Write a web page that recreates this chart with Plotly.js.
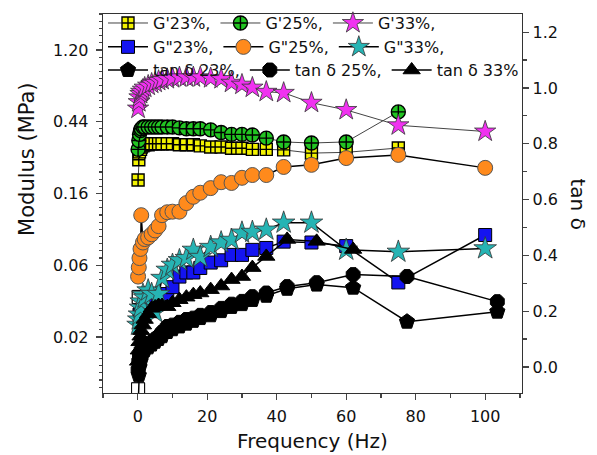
<!DOCTYPE html>
<html><head><meta charset="utf-8">
<script src="https://cdn.plot.ly/plotly-3.0.1.min.js"></script>
<style>html,body{margin:0;padding:0;background:#fff}#chart{width:597px;height:455px}</style>
</head><body><div id="chart"></div>
<script>
// Frequencies (Hz)
const freq    = [0.1,0.3,0.5,0.8,1,1.5,2,3,4,5,6,7,8.5,10,12,14,16,18,21,24,27,30,33,37,42,50,60,75,100];
const freqTan = [0.1,0.3,0.5,0.8,1,1.5,2,3,4,5,6,7,8.5,10,12,14,16,18,21,24,27,30,33,37,43,51.5,62,77.5,103.5];

// Storage modulus G' (MPa)
const gp23 = [0.196,0.26,0.29,0.30,0.31,0.315,0.32,0.32,0.325,0.325,0.325,0.325,0.325,0.325,0.32,0.32,0.32,0.315,0.31,0.31,0.305,0.305,0.30,0.30,0.298,0.285,0.288,0.306,null];
const gp25 = [0.30,0.34,0.37,0.39,0.40,0.41,0.41,0.41,0.41,0.41,0.41,0.41,0.41,0.41,0.405,0.40,0.40,0.40,0.394,0.38,0.37,0.37,0.367,0.351,0.333,0.328,0.333,0.506,null];
const gp33 = [0.53,0.58,0.62,0.65,0.67,0.69,0.71,0.73,0.75,0.76,0.78,0.79,0.80,0.81,0.82,0.82,0.82,0.82,0.81,0.80,0.76,0.74,0.71,0.67,0.66,0.575,0.52,0.42,0.385];
// Loss modulus G" (MPa)
const gpp23 = [0.0106,0.0384,0.030,0.031,0.032,0.032,0.033,0.034,0.034,0.035,0.035,0.036,0.040,0.044,0.051,0.054,0.054,0.0575,0.062,0.064,0.069,0.069,0.074,0.076,0.083,0.082,0.078,0.047,0.091];
const gpp25 = [0.051,0.058,0.066,0.075,0.12,0.082,0.086,0.088,0.092,0.097,0.103,0.12,0.125,0.126,0.126,0.142,0.155,0.164,0.175,0.19,0.188,0.202,0.21,0.21,0.235,0.242,0.266,0.278,0.232];
const gpp33 = [0.026,0.028,0.030,0.033,0.036,0.0395,0.038,0.042,0.040,0.031,0.040,0.050,0.056,0.060,0.064,0.066,0.074,0.067,0.077,0.082,0.085,0.094,0.095,0.098,0.108,0.108,0.074,0.072,0.0755];
// tan delta
const tan23 = [-0.15,-0.03,0.0,0.02,0.04,0.05,0.06,0.07,0.08,0.09,0.10,0.11,0.125,0.135,0.145,0.155,0.165,0.175,0.185,0.20,0.215,0.225,0.24,0.255,0.28,0.295,0.284,0.162,0.198];
const tan25 = [-0.01,0.02,0.04,0.05,0.06,0.065,0.07,0.08,0.09,0.10,0.11,0.125,0.145,0.15,0.16,0.17,0.175,0.185,0.195,0.21,0.225,0.235,0.252,0.265,0.288,0.302,0.331,0.324,0.234];
const tan33 = [0.02,0.06,0.09,0.11,0.13,0.15,0.17,0.19,0.21,0.215,0.22,0.22,0.216,0.23,0.241,0.25,0.259,0.265,0.277,0.29,0.313,0.324,0.356,0.396,0.457,0.45,0.421,null,null];

// Axis tick labels
const modTickVals = [0.02196,0.05970,0.1624,0.4415,1.2];
const modTickText = ['0.02','0.06','0.16','0.44','1.20'];

const minorMod = [];
for (let k = -50; k <= 6; k++) minorMod.push(1.2*Math.exp(k/10));

const FONT = '"DejaVu Sans", Arial, sans-serif';
function tr(name, x, y, sym, color, size, opts) {
  opts = opts || {};
  return {
    type:'scatter', mode: opts.mode || 'lines+markers', name:name, x:x, y:y,
    yaxis: opts.yaxis || 'y', legend: opts.legend, showlegend: opts.showlegend !== false,
    connectgaps:false,
    line:{color: opts.lineColor || '#000', width: opts.lineWidth || 1.5},
    marker:{symbol:sym, color:color, size:size, line:{color: opts.edge || '#000', width: opts.edgeW || 1}}
  };
}

const data = [
  tr("G'23%,", freq, gp23, 'square-cross', '#f2f200', 12, {legend:'legend', lineColor:'#444', lineWidth:1, edgeW:1.4}),
  tr("G'25%,", freq, gp25, 'circle-cross', '#22c422', 14, {legend:'legend', lineColor:'#444', lineWidth:1, edgeW:1.4}),
  tr("G'33%,", freq, gp33, 'star', '#f032f0', 16, {legend:'legend', lineColor:'#444', lineWidth:1, edge:'#333', edgeW:0.8}),
  tr('G"23%,', freq, gpp23, 'square', '#1414f0', 13, {legend:'legend2'}),
  tr('G"23% (open)', freq.slice(0,2), gpp23.slice(0,2), 'square', '#ffffff', 13, {legend:'legend2', mode:'markers', showlegend:false}),
  tr('G"25%,', freq, gpp25, 'circle', '#ff8a1c', 15, {legend:'legend2', edge:'#555'}),
  tr('G"33%,', freq, gpp33, 'star', '#26b4b4', 17, {legend:'legend2', edge:'#333', edgeW:0.8}),
  tr('tan δ 23%,', freqTan, tan23, 'pentagon', '#000', 16, {legend:'legend3', yaxis:'y2'}),
  tr('tan δ 25%,', freqTan, tan25, 'octagon', '#000', 15, {legend:'legend3', yaxis:'y2'}),
  tr('tan δ 33%', freqTan, tan33, 'triangle-up', '#000', 15, {legend:'legend3', yaxis:'y2'})
];

const legBase = {orientation:'h', x:0, xanchor:'left', yanchor:'middle', bgcolor:'rgba(0,0,0,0)',
  font:{family:FONT, size:16, color:'#111'}, itemwidth:40, tracegroupgap:0, itemclick:false};

const layout = {
  width:597, height:455,
  margin:{l:103, r:75, t:14, b:62, pad:0, autoexpand:false},
  paper_bgcolor:'#fff', plot_bgcolor:'#fff',
  font:{family:FONT, color:'#111'},
  xaxis:{range:[-10,110.6], tick0:0, dtick:20, ticks:'outside', ticklen:6, tickwidth:1.2,
    minor:{dtick:10, ticklen:4, ticks:'outside'},
    showline:true, linecolor:'#333', linewidth:1.3, mirror:true, showgrid:false, zeroline:false,
    tickfont:{size:16}, ticklabelstandoff:2, title:{text:'Frequency (Hz)', font:{size:20}, standoff:9}},
  yaxis:{type:'log', range:[Math.log10(0.01007), Math.log10(1.98)], tickmode:'array',
    tickvals:modTickVals, ticktext:modTickText, ticks:'outside', ticklen:6, tickwidth:1.2,
    minor:{tickmode:'array', tickvals:minorMod, ticklen:3, ticks:'outside'},
    showline:true, linecolor:'#333', linewidth:1.3, showgrid:false, zeroline:false,
    tickfont:{size:16}, ticklabelstandoff:4},
  yaxis2:{overlaying:'y', side:'right', range:[-0.0935,1.265], tick0:0, dtick:0.2, tickformat:'.1f',
    ticks:'outside', ticklen:6, tickwidth:1.2, minor:{dtick:0.1, ticklen:4, ticks:'outside'},
    showline:true, linecolor:'#333', linewidth:1.3, showgrid:false, zeroline:false,
    tickfont:{size:16}},
  legend: Object.assign({}, legBase, {y:0.976}),
  legend2: Object.assign({}, legBase, {y:0.913}),
  legend3: Object.assign({}, legBase, {y:0.852}),
  annotations:[
    {text:'Modulus (MPa)', textangle:-90, xref:'paper', yref:'paper', x:0, y:0.615,
      xanchor:'center', yanchor:'middle', xshift:-76, showarrow:false, font:{size:21, family:FONT, color:'#111'}},
    {text:'tan δ', textangle:90, xref:'paper', yref:'paper', x:1, y:0.5,
      xanchor:'center', yanchor:'middle', xshift:56, showarrow:false, font:{size:20, family:FONT, color:'#111'}}]
};

Plotly.newPlot('chart', data, layout, {displayModeBar:false, staticPlot:true});
</script></body></html>
